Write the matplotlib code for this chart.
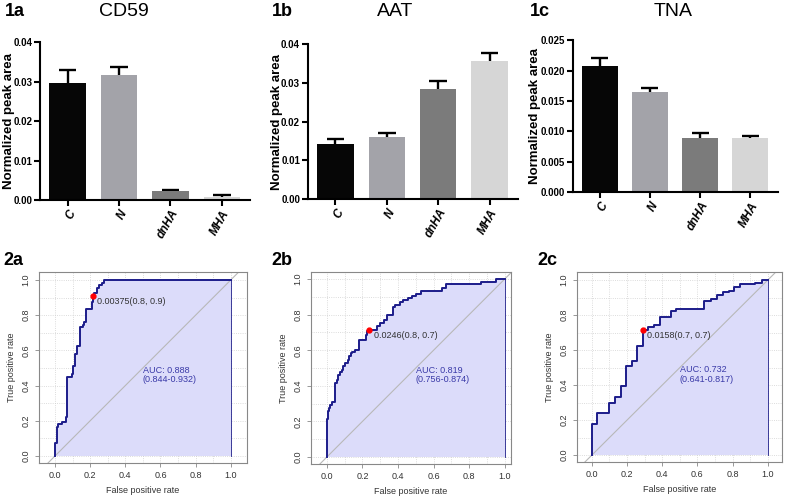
import matplotlib
matplotlib.use('Agg')
import matplotlib.pyplot as plt
import numpy as np

plt.rcParams['font.family'] = ['Liberation Sans', 'DejaVu Sans']

groups = ['C', 'N', 'dnHA', 'MHA']
bar_colors = ['#060606', '#a3a3a9', '#7b7b7b', '#d6d6d6']

cd59_mean = [0.0296, 0.0316, 0.0023, 0.0008]
cd59_err = [0.0034, 0.0021, 0.0004, 0.0004]
aat_mean = [0.0143, 0.0160, 0.0285, 0.0356]
aat_err = [0.0013, 0.0012, 0.0021, 0.0021]
tna_mean = [0.0207, 0.0165, 0.0089, 0.0089]
tna_err = [0.0014, 0.0007, 0.0008, 0.0004]

# ROC curves (corner points, curve rises at each fpr value)
roc_a_fpr = [0, 0, 0.009, 0.019, 0.038, 0.063, 0.070, 0.095, 0.104, 0.114, 0.127, 0.142,
             0.157, 0.165, 0.175, 0.208, 0.214, 0.222, 0.237, 0.252, 0.266, 0.280, 1.0]
roc_a_tpr = [0, 0.076, 0.167, 0.18, 0.195, 0.22, 0.45, 0.465, 0.51, 0.58, 0.627, 0.73,
             0.745, 0.76, 0.837, 0.877, 0.909, 0.928, 0.953, 0.97, 0.985, 1.0, 1.0]
roc_b_fpr = [0, 0, 0.006, 0.013, 0.019, 0.028, 0.047, 0.056, 0.065, 0.075, 0.084, 0.093,
             0.103, 0.116, 0.125, 0.135, 0.144, 0.159, 0.181, 0.221, 0.228, 0.239, 0.28,
             0.30, 0.32, 0.34, 0.37, 0.385, 0.41, 0.43, 0.455, 0.48, 0.50, 0.53, 0.645,
             0.672, 0.869, 0.953, 1.0]
roc_b_tpr = [0, 0.213, 0.257, 0.275, 0.294, 0.307, 0.416, 0.43, 0.46, 0.48, 0.49, 0.51,
             0.528, 0.547, 0.566, 0.584, 0.59, 0.60, 0.66, 0.687, 0.706, 0.715, 0.735,
             0.755, 0.77, 0.80, 0.845, 0.855, 0.87, 0.88, 0.893, 0.905, 0.918, 0.933, 0.948,
             0.972, 0.985, 1.0, 1.0]
roc_c_fpr = [0, 0, 0.032, 0.097, 0.131, 0.165, 0.197, 0.229, 0.259, 0.29, 0.318, 0.352,
             0.385, 0.45, 0.48, 0.64, 0.68, 0.71, 0.745, 0.78, 0.81, 0.84, 0.93, 0.965, 1.0]
roc_c_tpr = [0, 0.178, 0.242, 0.295, 0.333, 0.397, 0.508, 0.536, 0.621, 0.716, 0.731, 0.746,
             0.788, 0.822, 0.835, 0.883, 0.893, 0.917, 0.93, 0.94, 0.96, 0.975, 0.985, 1.0, 1.0]

best_points = [(0.214, 0.909), (0.239, 0.715), (0.29, 0.716)]
best_labels = ['0.00375(0.8, 0.9)', '0.0246(0.8, 0.7)', '0.0158(0.7, 0.7)']
auc_labels = ['AUC: 0.888\n(0.844-0.932)', 'AUC: 0.819\n(0.756-0.874)', 'AUC: 0.732\n(0.641-0.817)']

fig = plt.figure(figsize=(7.87, 4.98), dpi=100)

bar_panels = [
    ([0.0508, 0.598, 0.267, 0.317], cd59_mean, cd59_err, 0.04, [0, 0.01, 0.02, 0.03, 0.04], '%.2f', '1a', 'CD59', 124, -0.12),
    ([0.391, 0.600, 0.267, 0.311], aat_mean, aat_err, 0.04, [0, 0.01, 0.02, 0.03, 0.04], '%.2f', '1b', 'AAT', 395, -0.12),
    ([0.728, 0.614, 0.260, 0.305], tna_mean, tna_err, 0.025, [0, 0.005, 0.01, 0.015, 0.02, 0.025], '%.3f', '1c', 'TNA', 673, -0.158),
]
label_x = [5, 272, 530]

for i, (pos, mean, err, top, ticks, fmt, tag, title, tx, lx) in enumerate(bar_panels):
    ax = fig.add_axes(pos)
    x = np.arange(len(groups))
    ax.bar(x, mean, width=0.71, color=bar_colors, zorder=2)
    up = np.array(mean) + np.array(err)
    ax.vlines(x, mean, up, color='black', lw=1.7, zorder=1)
    ax.hlines(up, x - 0.17, x + 0.17, color='black', lw=1.7, zorder=1)
    ax.set_xlim(-0.54, 3.55)
    ax.set_ylim(0, top)
    ax.set_yticks(ticks)
    ax.set_yticklabels([fmt % t for t in ticks], fontsize=7, fontweight='bold')
    ax.set_xticks(x)
    ax.set_xticklabels(groups, rotation=60, ha='right', rotation_mode='anchor',
                       fontsize=8.5, fontweight='bold', fontstyle='italic')
    ax.set_ylabel('Normalized peak area', fontsize=9.5, fontweight='bold')
    ax.yaxis.set_label_coords(lx, 0.5)
    for s in ['top', 'right']:
        ax.spines[s].set_visible(False)
    for s in ['left', 'bottom']:
        ax.spines[s].set_linewidth(1.5)
    ax.tick_params(width=1.5, length=4, pad=1.5)
    fig.text(label_x[i] / 787, 1 - 11 / 498, tag, fontsize=13, fontweight='bold', va='center')
    fig.text(tx / 787, 1 - 11 / 498, title, fontsize=14, ha='center', va='center')

roc_panels = [
    ([0.0496, 0.0703, 0.264, 0.3835], (-0.091, 1.091), (-0.04, 1.045), roc_a_fpr, roc_a_tpr, '2a', 3),
    ([0.395, 0.068, 0.254, 0.386], (-0.09, 1.034), (-0.04, 1.04), roc_b_fpr, roc_b_tpr, '2b', 271),
    ([0.733, 0.072, 0.2605, 0.3815], (-0.085, 1.08), (-0.04, 1.045), roc_c_fpr, roc_c_tpr, '2c', 537),
]

for i, (pos, xl, yl, fpr, tpr, tag, tx) in enumerate(roc_panels):
    ax = fig.add_axes(pos)
    ax.set_xlim(*xl)
    ax.set_ylim(*yl)
    grid = np.arange(0, 1.01, 0.1)
    for g in grid:
        ax.axvline(g, color='#d0d0d0', lw=0.6, ls=':', zorder=0)
        ax.axhline(g, color='#d0d0d0', lw=0.6, ls=':', zorder=0)
    ax.fill_between(fpr, tpr, 0, step='post', color='#dcdcfa', zorder=1, lw=0)
    ax.plot([-0.2, 1.2], [-0.2, 1.2], color='#b8b8b8', lw=0.8, zorder=2)
    ax.plot(fpr, tpr, drawstyle='steps-post', color='#1c1c8a', lw=1.4, zorder=3)
    ax.plot([1, 1], [0, 1], color='#1c1c8a', lw=0.6, zorder=3)
    bx, by = best_points[i]
    ax.plot(bx, by, 'o', color='red', ms=3.5, zorder=4)
    ax.annotate(best_labels[i], (bx, by), xytext=(3, -4), textcoords='offset points',
                fontsize=6.5, color='#333333', va='center')
    ax.text(0.5, 0.46, auc_labels[i], fontsize=6.5, color='#3a3aa8', va='center', ha='left',
            linespacing=1.1)
    ax.set_xticks(np.arange(0, 1.01, 0.2))
    ax.set_yticks(np.arange(0, 1.01, 0.2))
    ax.set_xticklabels(['%.1f' % t for t in np.arange(0, 1.01, 0.2)], fontsize=6.5, color='#333333')
    ax.set_yticklabels(['%.1f' % t for t in np.arange(0, 1.01, 0.2)], fontsize=6.5, color='#333333',
                       rotation=90, va='center')
    ax.tick_params(color='#888888', length=3, width=0.6, pad=3)
    for s in ax.spines.values():
        s.set_color('#888888')
        s.set_linewidth(0.8)
    ax.set_xlabel('False positive rate', fontsize=6.5, color='#333333', labelpad=4)
    ax.set_ylabel('True positive rate', fontsize=6.5, color='#333333', labelpad=4)
    fig.text(tx / 787, 1 - 260 / 498, tag, fontsize=13, fontweight='bold', va='center')

fig.savefig('out.png', dpi=100, facecolor='white')
